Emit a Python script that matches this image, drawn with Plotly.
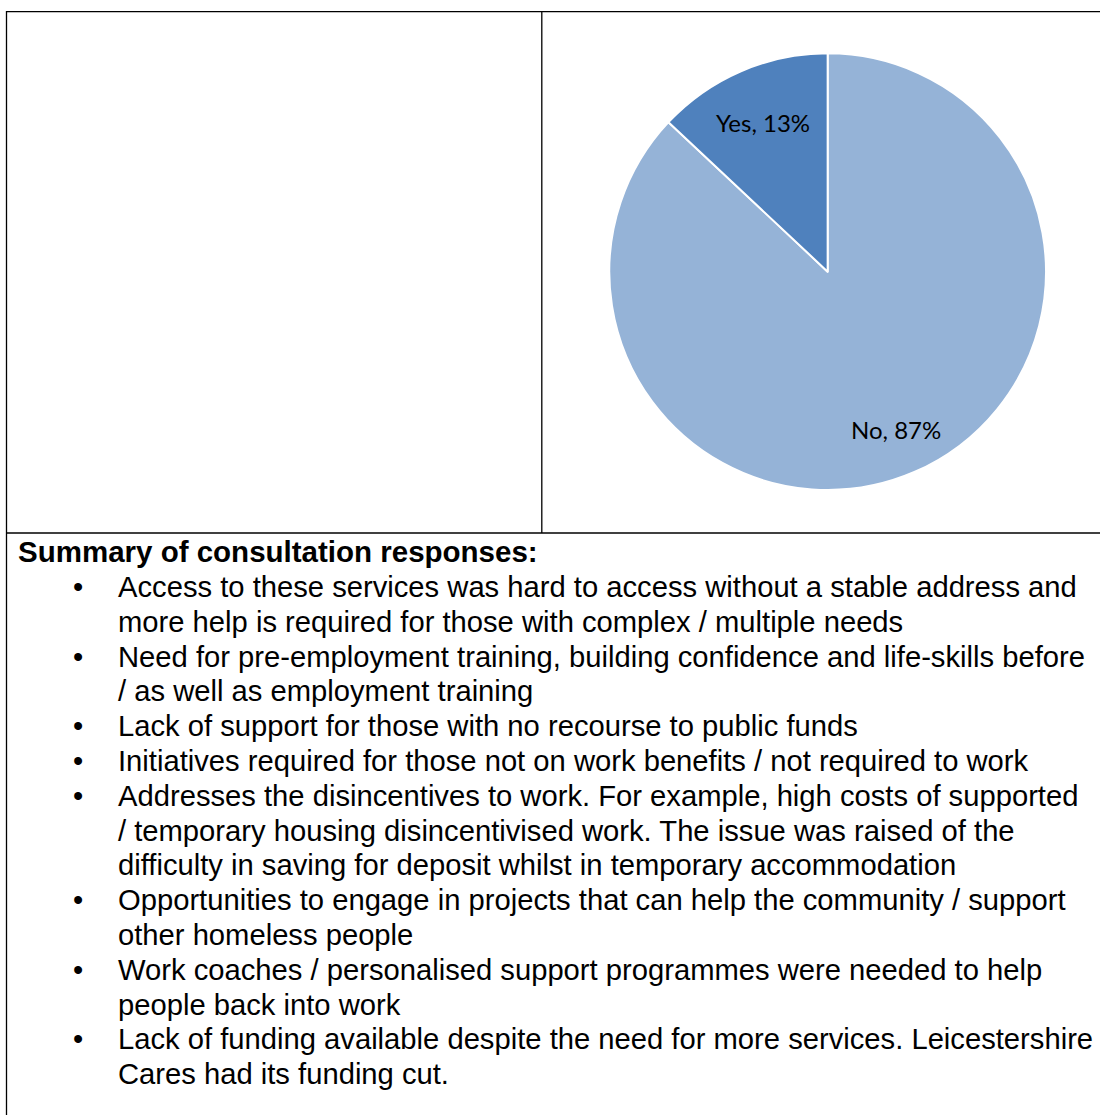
import math
import plotly.graph_objects as go

W, H = 1100, 1115

# ---- data ----
labels = ["No", "Yes"]
values = [87, 13]
colors = ["#95B3D7", "#4F81BD"]

title_text = "Summary of consultation responses:"
bullets = [
    ["Access to these services was hard to access without a stable address and",
     "more help is required for those with complex / multiple needs"],
    ["Need for pre-employment training, building confidence and life-skills before",
     "/ as well as employment training"],
    ["Lack of support for those with no recourse to public funds"],
    ["Initiatives required for those not on work benefits / not required to work"],
    ["Addresses the disincentives to work. For example, high costs of supported",
     "/ temporary housing disincentivised work. The issue was raised of the",
     "difficulty in saving for deposit whilst in temporary accommodation"],
    ["Opportunities to engage in projects that can help the community / support",
     "other homeless people"],
    ["Work coaches / personalised support programmes were needed to help",
     "people back into work"],
    ["Lack of funding available despite the need for more services. Leicestershire",
     "Cares had its funding cut."],
]


def px(x):
    return x / W


def py(y):
    return 1 - y / H


# pie geometry (pixels)
PX0, PX1, PY0, PY1 = 609.3, 1046.0, 53.3, 490.0
CX, CY = (PX0 + PX1) / 2, (PY0 + PY1) / 2
R = (PX1 - PX0) / 2

fig = go.Figure()
fig.add_trace(go.Pie(
    labels=labels,
    values=values,
    sort=False,
    direction="clockwise",
    rotation=0,
    marker=dict(colors=colors, line=dict(color="white", width=2)),
    textinfo="none",
    hoverinfo="skip",
    showlegend=False,
    domain=dict(x=[px(PX0), px(PX1)], y=[py(PY1), py(PY0)]),
))

annotations = []
# data labels placed along each slice bisector (derived from values)
total = sum(values)
cum = 0
for lab, v in zip(labels, values):
    frac_mid = (cum + v / 2) / total
    mid = frac_mid * 2 * math.pi  # clockwise from 12 o'clock
    cum += v
    rr = 0.79 * R if v / total > 0.5 else 0.745 * R
    lx = CX + rr * math.sin(mid)
    ly = CY - rr * math.cos(mid)
    annotations.append(dict(
        text=f"{lab}, {round(v / total * 100)}%", x=px(lx), y=py(ly),
        xref="paper", yref="paper", xanchor="center", yanchor="middle",
        showarrow=False, font=dict(family="Lato", size=24, color="black"),
    ))

shapes = []
line_style = dict(color="black", width=1.3)
shapes.append(dict(type="line", xref="paper", yref="paper", x0=px(6), x1=px(1100), y0=py(11.7), y1=py(11.7), line=line_style))
shapes.append(dict(type="line", xref="paper", yref="paper", x0=px(6.5), x1=px(6.5), y0=py(11), y1=py(1115), line=line_style))
shapes.append(dict(type="line", xref="paper", yref="paper", x0=px(541.8), x1=px(541.8), y0=py(11.7), y1=py(533), line=line_style))
shapes.append(dict(type="line", xref="paper", yref="paper", x0=px(6), x1=px(1100), y0=py(533), y1=py(533), line=line_style))

FONT = "Liberation Sans"
FS = 29.2
annotations.append(dict(
    text="<b>" + title_text + "</b>", x=px(16), y=py(551), xref="paper", yref="paper",
    xanchor="left", yanchor="middle", showarrow=False,
    font=dict(family=FONT, size=29.5, color="black"),
))

y = 587
step = 34.8
for item in bullets:
    annotations.append(dict(
        text="\u2022", x=px(78), y=py(y), xref="paper", yref="paper",
        xanchor="center", yanchor="middle", showarrow=False,
        font=dict(family=FONT, size=FS, color="black"),
    ))
    for line in item:
        annotations.append(dict(
            text=line, x=px(116), y=py(y), xref="paper", yref="paper",
            xanchor="left", yanchor="middle", showarrow=False,
            font=dict(family=FONT, size=FS, color="black"),
        ))
        y += step

fig.update_layout(
    width=W, height=H,
    margin=dict(l=0, r=0, t=0, b=0),
    paper_bgcolor="white", plot_bgcolor="white",
    shapes=shapes, annotations=annotations,
    showlegend=False,
)

fig.write_html(
    "out.html",
    config={"displayModeBar": False},
    post_script="document.body.style.margin='0';document.body.style.overflow='hidden';",
)
